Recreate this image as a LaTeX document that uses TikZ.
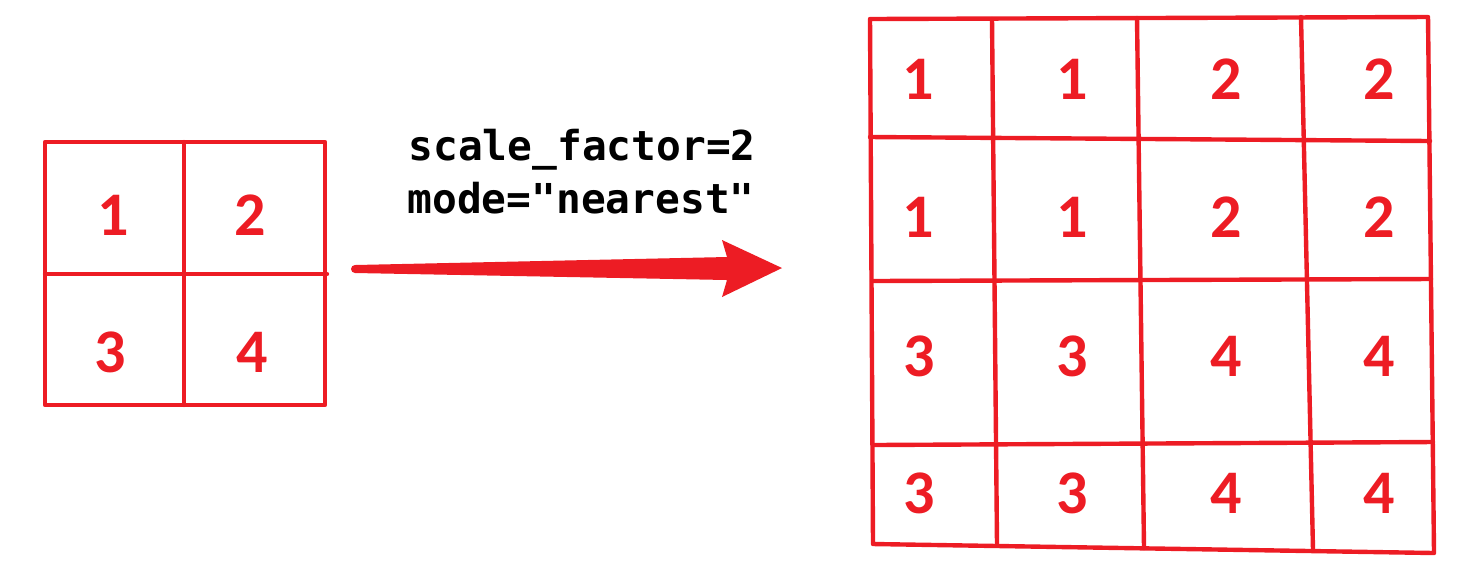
\documentclass[tikz,border=0pt]{standalone}
\usepackage{fontspec}
\newfontfamily\digitfont{Carlito}
\newfontfamily\codefont{DejaVu Sans Mono}
\usetikzlibrary{calc}
\definecolor{gridred}{RGB}{237,28,36}

\begin{document}
\begin{tikzpicture}[x=0.5pt,y=-0.5pt]
%	\draw[gray,very thin] (0,0) grid[step=100] (1460,570); % Grid for easy orientation
	\tikzstyle{gridline} = [
		draw=gridred, line width=2.2pt, line cap=round, line join=round
	]
	\tikzstyle{cell} = [
		text=gridred, inner sep=0pt, font=\digitfont\bfseries\fontsize{31}{31}\selectfont
	]
	\tikzstyle{param} = [
		anchor=base west, inner sep=0pt, font=\codefont\bfseries\fontsize{20.6}{20.6}\selectfont
	]
	\useasboundingbox (0,0) rectangle (1460,570);

	% Input 2x2
	\draw[gridline] (45,142) rectangle (325,405);
	\draw[gridline] (184,142) -- (184,405); % Mitte senkrecht
	\draw[gridline] (45,274) -- (327,274); % Mitte waagrecht
	\node (in11) [cell] at (113,215) {1};
	\node (in12) [cell] at (250,215) {2};
	\node (in21) [cell] at (110,352) {3};
	\node (in22) [cell] at (252,352) {4};

	% Parameters
	\node (scale) [param] at (408,160) {scale\_factor=2};
	\node (mode) [param] at (407,213) {mode="nearest"};

	% Arrow
	\coordinate (arrow_start) at (355,269);
	\coordinate (arrow_tip) at (782,268);
	\fill[gridred] (arrow_start) ++(0,-4) -- (727,257) -- (722,240) -- (arrow_tip)
		-- (722,297) -- (727,280) -- ($(arrow_start)+(0,4)$) arc[start angle=-90, end angle=-270, radius=2pt];

	% Output 4x4
	\coordinate (tl) at (870,19);
	\coordinate (tr) at (1428,17);
	\coordinate (bl) at (873,544);
	\coordinate (br) at (1434,553);
	\draw[gridline] (tl) -- (tr) -- (br) -- (bl) -- cycle;
	% waagrecht
	\draw[gridline] (870,137) -- (1430,141);
	\draw[gridline] (872,281) -- (1431,279);
	\draw[gridline] (874,445) -- (1433,442);
	% senkrecht
	\draw[gridline] (992,19) -- (997,545);
	\draw[gridline] (1137,18) -- (1144,548);
	\draw[gridline] (1301,17) -- (1313,550);
	% Werte
	\node (out11) [cell] at (918,79) {1};
	\node (out12) [cell] at (1072,79) {1};
	\node (out13) [cell] at (1226,79) {2};
	\node (out14) [cell] at (1379,79) {2};
	\node (out21) [cell] at (918,217) {1};
	\node (out22) [cell] at (1072,217) {1};
	\node (out23) [cell] at (1226,217) {2};
	\node (out24) [cell] at (1379,217) {2};
	\node (out31) [cell] at (919,356) {3};
	\node (out32) [cell] at (1072,356) {3};
	\node (out33) [cell] at (1226,356) {4};
	\node (out34) [cell] at (1379,356) {4};
	\node (out41) [cell] at (919,493) {3};
	\node (out42) [cell] at (1072,493) {3};
	\node (out43) [cell] at (1226,493) {4};
	\node (out44) [cell] at (1379,493) {4};

\end{tikzpicture}
\end{document}
